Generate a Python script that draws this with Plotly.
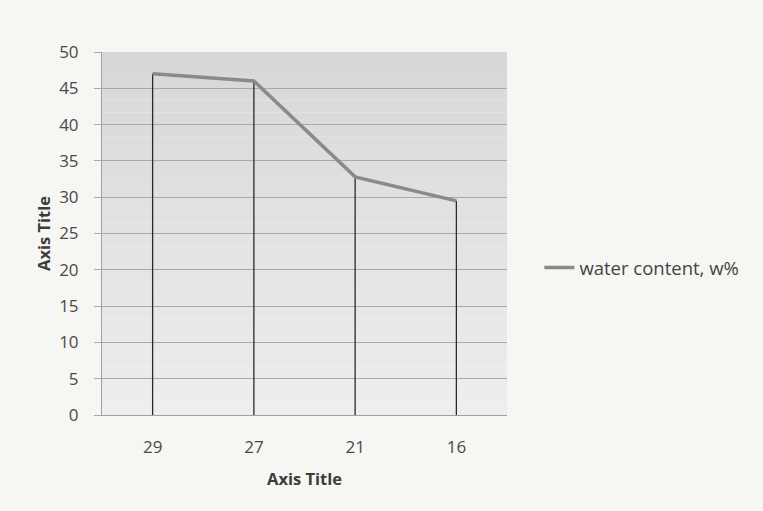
import plotly.graph_objects as go

# Sample depth categories and measured water content
categories = ["29", "27", "21", "16"]
water_content = [47.0, 46.0, 32.8, 29.5]
series_name = "water content, w%"
y_ticks = [0, 5, 10, 15, 20, 25, 30, 35, 40, 45, 50]

# Vertical drop lines from each point down to zero
drop_x, drop_y = [], []
for c, v in zip(categories, water_content):
    drop_x += [c, c, None]
    drop_y += [0, v, None]

fig = go.Figure()

# Soft vertical shading of the plot area (darker at the top)
n_bands = 30
for i in range(n_bands):
    t = i / (n_bands - 1)
    g = int(216 + (238 - 216) * t)
    fig.add_shape(
        type="rect", xref="paper", yref="paper",
        x0=0, x1=1, y0=1 - (i + 1) / n_bands, y1=1 - i / n_bands,
        fillcolor=f"rgb({g},{g},{g})", line_width=0, layer="below",
    )

fig.add_trace(go.Scatter(
    x=drop_x, y=drop_y, mode="lines",
    line=dict(color="#2a2a2a", width=1.3),
    showlegend=False, hoverinfo="skip",
))
fig.add_trace(go.Scatter(
    x=categories, y=water_content, mode="lines", name=series_name,
    line=dict(color="#8a8a8a", width=3.5),
))

font_family = "Open Sans, Lato, sans-serif"
title_font = dict(size=16.5, color="#3c3c3c")
fig.update_layout(
    width=763, height=511,
    margin=dict(l=102, r=256, t=52, b=96),
    paper_bgcolor="#f6f6f3",
    plot_bgcolor="rgba(0,0,0,0)",
    font=dict(family=font_family, size=17, color="#4a4a4a"),
    showlegend=True,
    legend=dict(
        x=1.08, y=0.405, xanchor="left", yanchor="middle",
        bgcolor="rgba(0,0,0,0)", font=dict(size=18.5, color="#444444"),
        itemwidth=30,
    ),
    xaxis=dict(
        type="category", categoryorder="array", categoryarray=categories,
        showgrid=False, showline=True, linecolor="#a0a0a0", linewidth=1,
        ticks="", ticklabelstandoff=17,
        title=dict(text="<b>Axis Title</b>", font=title_font, standoff=16),
        range=[-0.5, 3.5],
    ),
    yaxis=dict(
        range=[0, 50], tickvals=y_ticks,
        showgrid=True, gridcolor="#a9a9a9", gridwidth=1,
        zeroline=False, showline=True, linecolor="#a0a0a0", linewidth=1,
        ticks="outside", ticklen=7, tickcolor="#a9a9a9",
        ticklabelstandoff=12,
        title=dict(text="<b>Axis Title</b>", font=title_font, standoff=4),
    ),
)

fig.write_html("out.html")
